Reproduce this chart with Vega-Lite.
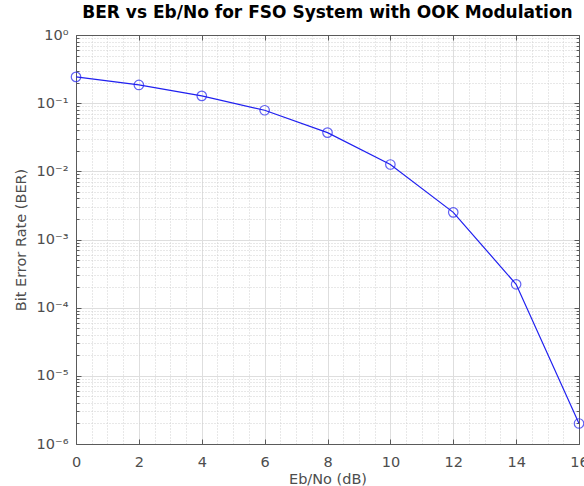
{
  "$schema": "https://vega.github.io/schema/vega-lite/v6.json",
  "width": 503,
  "height": 409,
  "autosize": "none",
  "padding": {"left": 76, "top": 35, "right": 5, "bottom": 42},
  "background": "white",
  "title": {"text": "BER vs Eb/No for FSO System with OOK Modulation", "font": "DejaVu Sans", "fontSize": 17, "fontWeight": "bold", "color": "#000000", "offset": 5, "anchor": "middle"},
  "config": {
    "view": {"stroke": null},
    "axis": {"labelFont": "DejaVu Sans", "titleFont": "DejaVu Sans", "labelColor": "#4d4d4d", "titleColor": "#4d4d4d", "labelFontSize": 14.5, "titleFontSize": 14.5, "titleFontWeight": "normal", "domainColor": "#5a5a5a", "tickColor": "#5a5a5a", "gridColor": "#dedede", "gridOpacity": 1}
  },
  "data": {"values": [
    {"ebno": 0, "ber": 0.243},
    {"ebno": 2, "ber": 0.185},
    {"ebno": 4, "ber": 0.128},
    {"ebno": 6, "ber": 0.0787},
    {"ebno": 8, "ber": 0.037},
    {"ebno": 10, "ber": 0.0126},
    {"ebno": 12, "ber": 0.0025},
    {"ebno": 14, "ber": 0.00022},
    {"ebno": 16, "ber": 0.000002}
  ]},
  "layer": [
    {
      "mark": {"type": "line", "opacity": 0},
      "encoding": {
        "x": {"field": "ebno", "type": "quantitative", "scale": {"domain": [0, 16], "nice": false, "zero": false},
          "axis": {"orient": "bottom", "values": [0.5,1,1.5,2.5,3,3.5,4.5,5,5.5,6.5,7,7.5,8.5,9,9.5,10.5,11,11.5,12.5,13,13.5,14.5,15,15.5], "grid": true, "gridDash": [1, 2], "gridColor": "#d0d0d0", "ticks": false, "labels": false, "domain": false, "title": null}},
        "y": {"field": "ber", "type": "quantitative", "scale": {"type": "log", "domain": [0.000001, 1], "nice": false},
          "axis": {"orient": "left", "values": [0.000002,0.000003,0.000004,0.000005,0.000006,0.000007,0.000008,0.000009,0.00002,0.00003,0.00004,0.00005,0.00006,0.00007,0.00008,0.00009,0.0002,0.0003,0.0004,0.0005,0.0006,0.0007,0.0008,0.0009,0.002,0.003,0.004,0.005,0.006,0.007,0.008,0.009,0.02,0.03,0.04,0.05,0.06,0.07,0.08,0.09,0.2,0.3,0.4,0.5,0.6,0.7,0.8,0.9], "grid": true, "gridDash": [1, 2], "gridColor": "#d0d0d0", "ticks": true, "tickSize": -3, "labels": false, "domain": false, "title": null}}
      }
    },
    {
      "mark": {"type": "line", "opacity": 0},
      "encoding": {
        "x": {"field": "ebno", "type": "quantitative",
          "axis": {"orient": "bottom", "values": [0,2,4,6,8,10,12,14,16], "grid": true, "ticks": true, "tickSize": -5, "labels": false, "domain": true, "title": null}},
        "y": {"field": "ber", "type": "quantitative",
          "axis": {"orient": "left", "values": [0.000001,0.00001,0.0001,0.001,0.01,0.1,1], "grid": true, "ticks": true, "tickSize": -5, "labels": false, "domain": true, "title": null}}
      }
    },
    {
      "mark": {"type": "line", "opacity": 0},
      "encoding": {
        "x": {"field": "ebno", "type": "quantitative",
          "axis": {"orient": "bottom", "values": [0,2,4,6,8,10,12,14,16], "grid": false, "ticks": false, "labels": true, "labelPadding": 11, "labelFlush": false, "domain": false, "title": "Eb/No (dB)", "titlePadding": 4}},
        "y": {"field": "ber", "type": "quantitative",
          "axis": {"orient": "left", "values": [0.000001,0.00001,0.0001,0.001,0.01,0.1,1], "grid": false, "ticks": false, "labels": true, "labelPadding": 8, "labelFlush": false, "labelExpr": "['10⁰','10⁻¹','10⁻²','10⁻³','10⁻⁴','10⁻⁵','10⁻⁶'][round(-log(datum.value)/LN10)]", "domain": false, "title": "Bit Error Rate (BER)", "titlePadding": 8}}
      }
    },
    {
      "mark": {"type": "line", "opacity": 0},
      "encoding": {
        "x": {"field": "ebno", "type": "quantitative",
          "axis": {"orient": "top", "values": [0,2,4,6,8,10,12,14,16], "grid": false, "ticks": true, "tickSize": -5, "labels": false, "domain": true, "title": null}},
        "y": {"field": "ber", "type": "quantitative",
          "axis": {"orient": "right", "values": [0.000001,0.00001,0.0001,0.001,0.01,0.1,1], "grid": false, "ticks": true, "tickSize": -5, "labels": false, "domain": true, "title": null}}
      }
    },
    {
      "mark": {"type": "line", "opacity": 0},
      "encoding": {
        "x": {"field": "ebno", "type": "quantitative", "axis": null},
        "y": {"field": "ber", "type": "quantitative",
          "axis": {"orient": "right", "values": [0.000002,0.000003,0.000004,0.000005,0.000006,0.000007,0.000008,0.000009,0.00002,0.00003,0.00004,0.00005,0.00006,0.00007,0.00008,0.00009,0.0002,0.0003,0.0004,0.0005,0.0006,0.0007,0.0008,0.0009,0.002,0.003,0.004,0.005,0.006,0.007,0.008,0.009,0.02,0.03,0.04,0.05,0.06,0.07,0.08,0.09,0.2,0.3,0.4,0.5,0.6,0.7,0.8,0.9], "grid": false, "ticks": true, "tickSize": -3, "labels": false, "domain": false, "title": null}}
      }
    },
    {
      "mark": {"type": "line", "color": "#2020f0", "strokeWidth": 1.2},
      "encoding": {
        "x": {"field": "ebno", "type": "quantitative", "axis": null},
        "y": {"field": "ber", "type": "quantitative", "axis": null}
      }
    },
    {
      "mark": {"type": "point", "shape": "circle", "filled": false, "color": "#2020f0", "size": 90, "strokeWidth": 1.2},
      "encoding": {
        "x": {"field": "ebno", "type": "quantitative", "axis": null},
        "y": {"field": "ber", "type": "quantitative", "axis": null}
      }
    }
  ],
  "resolve": {"axis": {"x": "independent", "y": "independent"}}
}
